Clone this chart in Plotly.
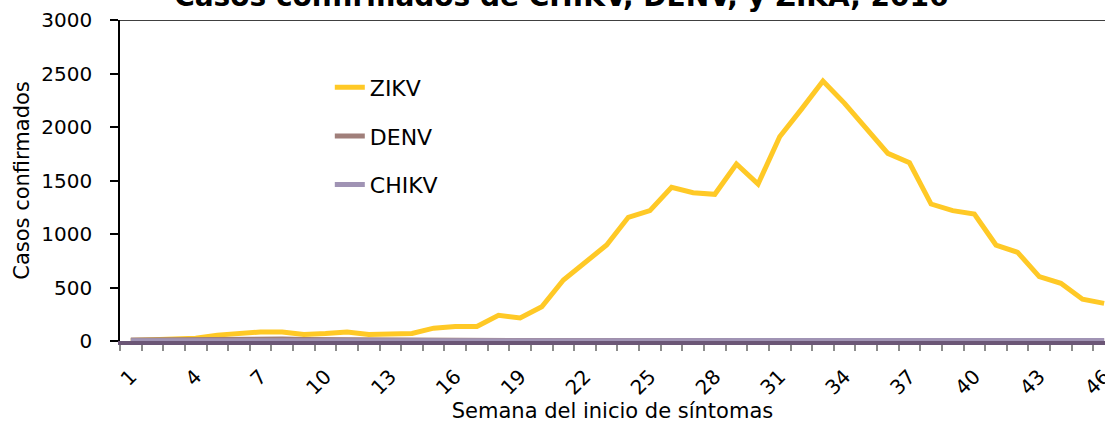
import plotly.graph_objects as go

weeks = list(range(1, 47))
zikv = [5, 8, 12, 25, 55, 70, 85, 85, 60, 70, 85, 60, 70, 70, 120, 135, 135, 240, 215, 320,
        570, 740, 897, 1156, 1218, 1436, 1386, 1371, 1654, 1467, 1909, 2165, 2430, 2221, 1988,
        1754, 1666, 1280, 1218, 1187, 897, 829, 601, 539, 390, 352]
denv = [10, 12, 12, 14, 16, 18, 22, 18, 14, 12, 10, 8, 8, 6, 6, 5, 5, 5, 4, 4,
        4, 4, 4, 3, 3, 3, 3, 3, 3, 3, 3, 3, 3, 3, 3, 3, 3, 3, 3, 3, 3, 3, 3, 3, 3, 3]
chikv = [3, 3, 3, 4, 5, 8, 12, 10, 6, 5, 5, 4, 4, 4, 4, 4, 4, 4, 4, 4,
         4, 4, 4, 4, 4, 4, 4, 4, 4, 4, 4, 4, 4, 4, 4, 4, 4, 4, 4, 4, 4, 4, 4, 4, 4, 4]
tick_weeks = list(range(1, 47, 3))

FONT = "DejaVu Sans"

fig = go.Figure()
fig.add_trace(go.Scatter(x=weeks, y=zikv, name="ZIKV", mode="lines", legendgroup="a",
                         line=dict(color="#FFC926", width=5)))
fig.add_trace(go.Scatter(x=weeks, y=denv, name="DENV", mode="lines", legendgroup="b",
                         line=dict(color="#A07F7A", width=5)))
fig.add_trace(go.Scatter(x=weeks, y=chikv, name="CHIKV", mode="lines", legendgroup="c",
                         line=dict(color="#A093B4", width=5)))

fig.update_layout(
    width=1105, height=423,
    margin=dict(l=120, r=0, t=20, b=82, autoexpand=False),
    paper_bgcolor="white", plot_bgcolor="white",
    font=dict(family=FONT, size=20, color="black"),
    title=dict(text="<b>Casos confirmados de CHIKV, DENV, y ZIKA, 2016</b>",
               x=0.508, xanchor="center", y=0.986, yanchor="bottom",
               yref="container", font=dict(size=28, family=FONT)),
    showlegend=True,
    legend=dict(x=0.213, y=0.855, xanchor="left", yanchor="top",
                bgcolor="rgba(0,0,0,0)", font=dict(size=22), tracegroupgap=17),
    xaxis=dict(range=[0.5, 46.04], tickmode="array", tickvals=tick_weeks,
               ticktext=[str(w) for w in tick_weeks], tickangle=-45,
               ticks="", ticklabelstandoff=12, ticklabeloverflow="allow", automargin=False,
               minor=dict(tickmode="linear", tick0=0.5, dtick=1, ticks="outside",
                          ticklen=6, tickcolor="#8c8c8c", tickwidth=1.5, showgrid=False),
               showline=True, linecolor="#6B5676", linewidth=4, layer="above traces",
               showgrid=False, zeroline=False,
               title=dict(text="Semana del inicio de síntomas", standoff=2,
                          font=dict(size=21))),
    yaxis=dict(range=[0, 3000], dtick=500, ticks="outside", ticklen=8, tickcolor="black",
               tickwidth=1.5, showline=True, linecolor="black", linewidth=1.5,
               showgrid=False, zeroline=False, ticklabelstandoff=14, automargin=False,
               title=dict(text="Casos confirmados", standoff=6, font=dict(size=21))),
    shapes=[dict(type="line", xref="paper", yref="y", x0=-0.01, x1=1, y0=3000, y1=3000,
                 line=dict(color="black", width=1.5))],
)

fig.write_html("out.html", config={"displayModeBar": False},
               post_script="document.body.style.margin='0';document.body.style.overflow='hidden';")
